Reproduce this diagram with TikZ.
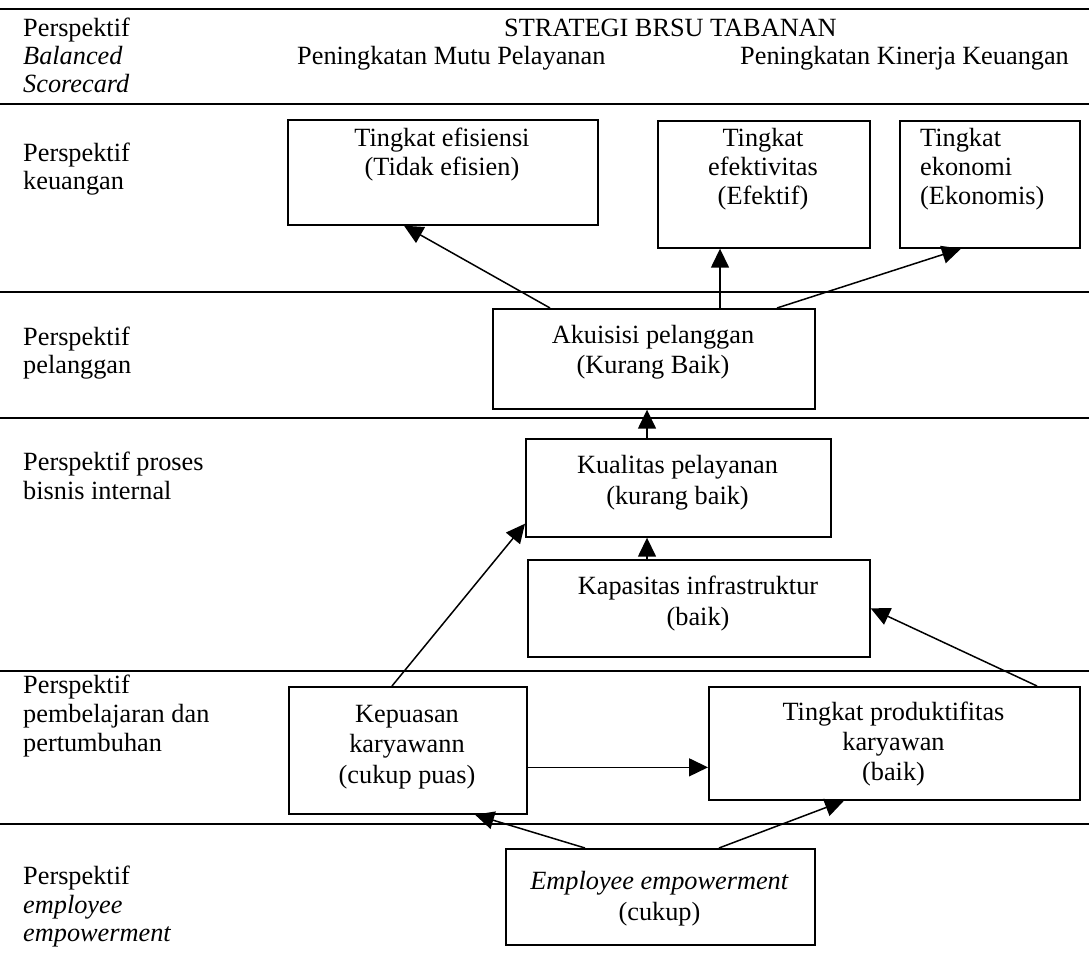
\documentclass[tikz,border=0pt]{standalone}
\usepackage{fontspec}
\setmainfont{Liberation Serif}
\usetikzlibrary{arrows.meta}
\begin{document}
\begin{tikzpicture}[x=1pt,y=-1pt,
  sep/.style={line width=2.2pt},
  box/.style={draw, line width=1.7pt, inner sep=0pt, anchor=north west},
  lbl/.style={anchor=base west, inner sep=0pt},
  txt/.style={anchor=base, inner sep=0pt},
  arr/.style={line width=1.5pt, -{Triangle[length=19pt,width=18pt]}},
  font=\fontsize{26.3}{29.5}\selectfont]
\useasboundingbox (0,0) rectangle (1089,976);
% separators
\foreach \yy in {9,104,292,418,671,824} \draw[sep] (0,\yy) -- (1089,\yy);
% header
\node[lbl] (h1) at (23,37) {Perspektif};
\node[lbl] (h2) at (23,65) {\textit{Balanced}};
\node[lbl] (h3) at (23,93) {\textit{Scorecard}};
\node[lbl] (s0) at (504,37) {STRATEGI BRSU TABANAN};
\node[lbl] (s1) at (297,65) {Peningkatan Mutu Pelayanan};
\node[lbl] (s2) at (740,65) {Peningkatan Kinerja Keuangan};
% row labels
\node[lbl] (k1) at (23,162) {Perspektif};
\node[lbl] (k2) at (23,190) {keuangan};
\node[lbl] (p1) at (23,345) {Perspektif};
\node[lbl] (p2) at (23,373) {pelanggan};
\node[lbl] (b1) at (23,470) {Perspektif proses};
\node[lbl] (b2) at (23,499) {bisnis internal};
\node[lbl] (l1) at (23,693) {Perspektif};
\node[lbl] (l2) at (23,722) {pembelajaran dan};
\node[lbl] (l3) at (23,751) {pertumbuhan};
\node[lbl] (e1) at (23,884) {Perspektif};
\node[lbl] (e2) at (23,913) {\textit{employee}};
\node[lbl] (e3) at (23,941) {\textit{empowerment}};
% boxes
\node[box, minimum width=310pt, minimum height=105pt] (efis) at (287,119) {};
\node[box, minimum width=212pt, minimum height=127pt] (efek) at (657,120) {};
\node[box, minimum width=180pt, minimum height=127pt] (ekon) at (899,120) {};
\node[box, minimum width=322pt, minimum height=100pt] (akui) at (492,308) {};
\node[box, minimum width=305pt, minimum height=98pt] (kual) at (525,438) {};
\node[box, minimum width=342pt, minimum height=97pt] (kapa) at (527,559) {};
\node[box, minimum width=238pt, minimum height=127pt] (kepu) at (288,686) {};
\node[box, minimum width=371pt, minimum height=113pt] (prod) at (708,686) {};
\node[box, minimum width=309pt, minimum height=96pt] (empl) at (505,848) {};
% box texts
\node[txt] (efisA) at (442,147) {Tingkat efisiensi};
\node[txt] (efisB) at (442,176) {(Tidak efisien)};
\node[txt] (efekA) at (763,147) {Tingkat};
\node[txt] (efekB) at (763,176) {efektivitas};
\node[txt] (efekC) at (763,205) {(Efektif)};
\node[lbl] (ekonA) at (920,147) {Tingkat};
\node[lbl] (ekonB) at (920,176) {ekonomi};
\node[lbl] (ekonC) at (920,205) {(Ekonomis)};
\node[txt] (akuiA) at (653,343) {Akuisisi pelanggan};
\node[txt] (akuiB) at (653,373) {(Kurang Baik)};
\node[txt] (kualA) at (677.5,473) {Kualitas pelayanan};
\node[txt] (kualB) at (677.5,504) {(kurang baik)};
\node[txt] (kapaA) at (698,594) {Kapasitas infrastruktur};
\node[txt] (kapaB) at (698,625) {(baik)};
\node[txt] (kepuA) at (407,722) {Kepuasan};
\node[txt] (kepuB) at (407,752) {karyawann};
\node[txt] (kepuC) at (407,783) {(cukup puas)};
\node[txt] (prodA) at (893.5,720) {Tingkat produktifitas};
\node[txt] (prodB) at (893.5,750) {karyawan};
\node[txt] (prodC) at (893.5,780) {(baik)};
\node[txt] (emplA) at (659.5,889) {\textit{Employee empowerment}};
\node[txt] (emplB) at (659.5,920) {(cukup)};
% connectors
\draw[arr] ([xshift=58pt]akui.north west) -- ([xshift=117pt]efis.south west);
\draw[arr] ([xshift=228pt]akui.north west) -- ([xshift=63pt]efek.south west);
\draw[arr] ([xshift=285pt]akui.north west) -- ([xshift=62pt]ekon.south west);
\draw[arr] ([xshift=122pt]kual.north west) -- ([xshift=155pt]akui.south west);
\draw[arr] ([xshift=120pt]kapa.north west) -- ([xshift=122pt]kual.south west);
\draw[arr] ([xshift=104pt]kepu.north west) -- ([yshift=14pt]kual.south west);
\draw[arr] ([xshift=329pt]prod.north west) -- (kapa.east);
\draw[arr] ([yshift=-17pt]kepu.east) -- ([yshift=-17pt]kepu.east -| prod.west);
\draw[arr] ([xshift=80pt]empl.north west) -- ([xshift=187pt]kepu.south west);
\draw[arr] ([xshift=214pt]empl.north west) -- ([xshift=136pt]prod.south west);
\end{tikzpicture}
\end{document}
